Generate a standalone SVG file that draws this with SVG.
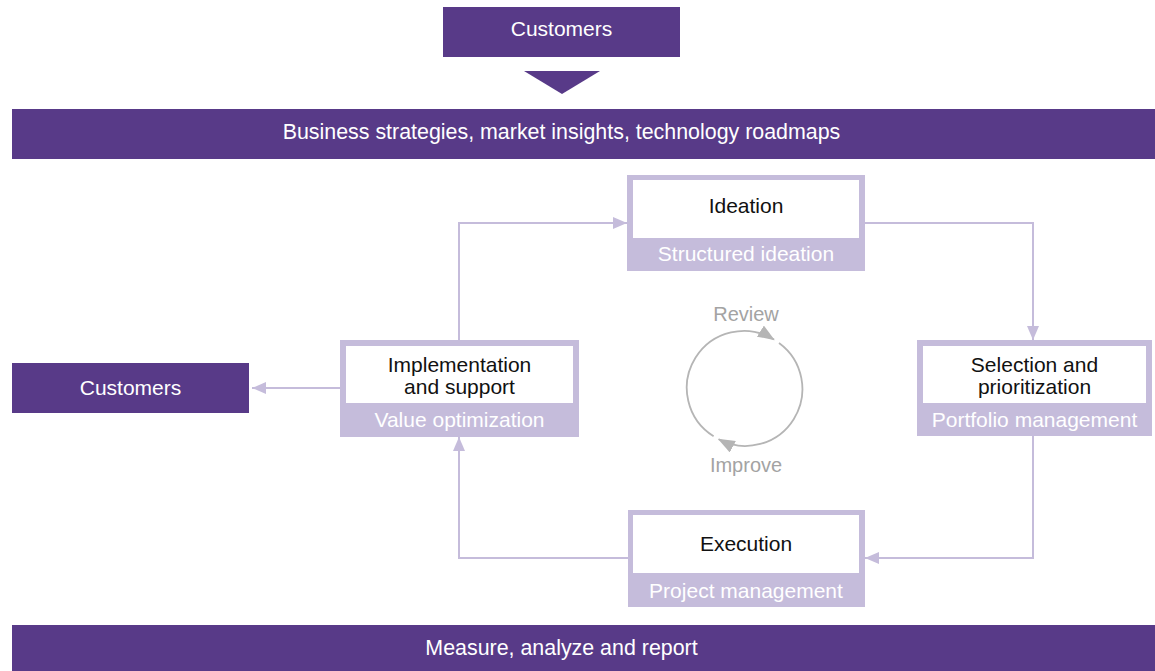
<svg xmlns="http://www.w3.org/2000/svg" width="1155" height="671" viewBox="0 0 1155 671">
<defs>
<style>
.bar{fill:#583a88}
.bt{font-family:"Liberation Sans",Arial,sans-serif;font-size:21px;fill:#ffffff;text-anchor:middle}
.wide{font-size:21.4px}
.outer{fill:#c5bcdb}
.inner{fill:#ffffff}
.t{font-family:"Liberation Sans",Arial,sans-serif;font-size:21px;fill:#111111;text-anchor:middle}
.st{font-family:"Liberation Sans",Arial,sans-serif;font-size:21px;fill:#ffffff;text-anchor:middle}
.cn{fill:none;stroke:#c5bcdb;stroke-width:2}
.cy{fill:none;stroke:#b5b5b5;stroke-width:1.8}
.ct{font-family:"Liberation Sans",Arial,sans-serif;font-size:20px;fill:#a3a3a3;text-anchor:middle}
</style>
<marker id="ah" viewBox="0 0 14 12" refX="14" refY="6" markerWidth="14" markerHeight="12" markerUnits="userSpaceOnUse" orient="auto">
<path d="M0,0 L14,6 L0,12 Z" fill="#c5bcdb"/>
</marker>
<marker id="gh" viewBox="0 0 17 13" refX="16" refY="6.5" markerWidth="17" markerHeight="13" markerUnits="userSpaceOnUse" orient="auto">
<path d="M0,0 L17,6.5 L0,13 Z" fill="#b5b5b5"/>
</marker>
</defs>
<rect width="1155" height="671" fill="#ffffff"/>

<g id="customers-top">
<rect class="bar" x="443" y="7" width="237" height="50"/>
<text class="bt" x="561.5" y="36">Customers</text>
<polygon class="bar" points="524,71 600,71 562,94"/>
</g>

<g id="strategies-bar">
<rect class="bar" x="12" y="109" width="1143" height="50"/>
<text class="bt wide" x="561.5" y="139">Business strategies, market insights, technology roadmaps</text>
</g>

<g id="ideation">
<rect class="outer" x="627" y="175" width="238" height="96"/>
<rect class="inner" x="633" y="180" width="226" height="58"/>
<text class="t" x="746" y="213">Ideation</text>
<text class="st" x="746" y="261">Structured ideation</text>
</g>

<g id="implementation">
<rect class="outer" x="340" y="340" width="239" height="97"/>
<rect class="inner" x="346" y="346" width="227" height="57"/>
<text class="t" x="459.5" y="372">Implementation</text>
<text class="t" x="459.5" y="394">and support</text>
<text class="st" x="459.5" y="427">Value optimization</text>
</g>

<g id="selection">
<rect class="outer" x="917" y="340" width="235" height="96"/>
<rect class="inner" x="923" y="346" width="223" height="57"/>
<text class="t" x="1034.5" y="372">Selection and</text>
<text class="t" x="1034.5" y="394">prioritization</text>
<text class="st" x="1034.5" y="427">Portfolio management</text>
</g>

<g id="execution">
<rect class="outer" x="628" y="510" width="237" height="97"/>
<rect class="inner" x="633" y="515" width="226" height="58"/>
<text class="t" x="746" y="551">Execution</text>
<text class="st" x="746" y="598">Project management</text>
</g>

<g id="customers-left">
<rect class="bar" x="12" y="363" width="237" height="50"/>
<text class="bt" x="130.5" y="395">Customers</text>
</g>

<g id="measure-bar">
<rect class="bar" x="12" y="625" width="1143" height="46"/>
<text class="bt wide" x="561.5" y="655">Measure, analyze and report</text>
</g>

<g id="connectors">
<path class="cn" d="M459,340 V223 H627" marker-end="url(#ah)"/>
<path class="cn" d="M865,223 H1033 V340" marker-end="url(#ah)"/>
<path class="cn" d="M1033,436 V558 H865" marker-end="url(#ah)"/>
<path class="cn" d="M628,558 H459 V437" marker-end="url(#ah)"/>
<path class="cn" d="M340,388 H252" marker-end="url(#ah)"/>
</g>

<g id="cycle">
<path class="cy" d="M713.6,436.3 A57,57 0 0 1 774,339.6" marker-end="url(#gh)"/>
<path class="cy" d="M779,342.9 A57,57 0 0 1 718.7,439.3" marker-end="url(#gh)"/>
<text class="ct" x="746" y="321">Review</text>
<text class="ct" x="746" y="472">Improve</text>
</g>
</svg>
